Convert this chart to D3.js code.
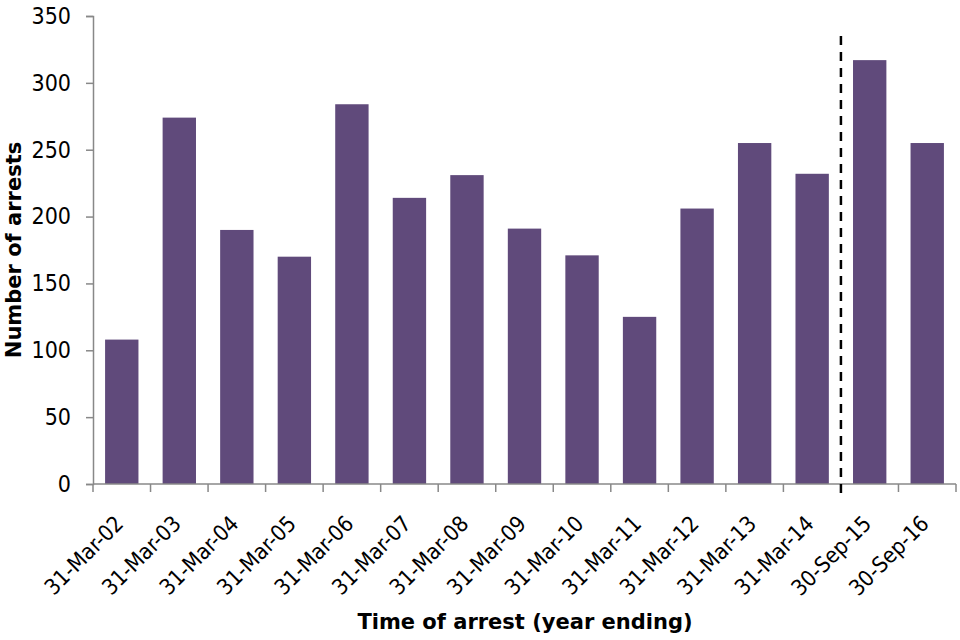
<!DOCTYPE html>
<html>
<head>
<meta charset="utf-8">
<script src="https://cdn.jsdelivr.net/npm/d3@7"></script>
<style>
  body { margin: 0; background: #fff; }
  svg { display: block; font-family: "DejaVu Sans", Verdana, sans-serif; }
</style>
</head>
<body>
<svg id="chart" width="960" height="640"></svg>
<script>
// year ending labels
const categories = ['31-Mar-02', '31-Mar-03', '31-Mar-04', '31-Mar-05', '31-Mar-06',
  '31-Mar-07', '31-Mar-08', '31-Mar-09', '31-Mar-10', '31-Mar-11', '31-Mar-12',
  '31-Mar-13', '31-Mar-14', '30-Sep-15', '30-Sep-16'];
const arrests = [108, 274, 190, 170, 284, 214, 231, 191, 171, 125, 206, 255, 232, 317, 255];
const yTicks = [0, 50, 100, 150, 200, 250, 300, 350];
// series break drawn before this category
const breakBefore = '30-Sep-15';

const tickFont = '"DejaVu Sans Condensed", "DejaVu Sans", sans-serif';

const svg = d3.select('#chart');
const margin = { top: 16, right: 4, bottom: 156, left: 93 };
const width = 960 - margin.left - margin.right;
const height = 640 - margin.top - margin.bottom;

const x = d3.scaleBand()
  .domain(categories)
  .range([0, width])
  .paddingInner(0.42)
  .paddingOuter(0.21);

const y = d3.scaleLinear()
  .domain([0, 350])
  .range([height, 0]);

const g = svg.append('g')
  .attr('transform', `translate(${margin.left},${margin.top})`);

g.selectAll('.bar')
  .data(arrests)
  .enter()
  .append('rect')
  .attr('class', 'bar')
  .attr('x', (d, i) => x(categories[i]))
  .attr('y', d => y(d))
  .attr('width', x.bandwidth())
  .attr('height', d => height - y(d))
  .attr('fill', '#604a7b');

// y axis
const yAxis = g.append('g')
  .call(d3.axisLeft(y).tickValues(yTicks).tickSize(7).tickPadding(15));
yAxis.select('.domain').attr('stroke', '#888').attr('stroke-width', 1.5);
yAxis.selectAll('.tick line').attr('stroke', '#888').attr('stroke-width', 1.5);
yAxis.selectAll('.tick text')
  .attr('font-family', tickFont)
  .attr('font-size', 23)
  .attr('fill', '#000');

// x axis: ticks sit on band boundaries
const edges = d3.range(categories.length + 1).map(i => i * width / categories.length);
const xAxis = g.append('g').attr('transform', `translate(0,${height})`);
xAxis.append('line')
  .attr('x1', 0).attr('x2', width)
  .attr('stroke', '#888').attr('stroke-width', 1.5);
xAxis.selectAll('.edge')
  .data(edges)
  .enter()
  .append('line')
  .attr('class', 'edge')
  .attr('x1', d => d).attr('x2', d => d)
  .attr('y1', 0).attr('y2', 8)
  .attr('stroke', '#888').attr('stroke-width', 1.5);

xAxis.selectAll('.xlabel')
  .data(categories)
  .enter()
  .append('text')
  .attr('class', 'xlabel')
  .attr('transform', d => `translate(${x(d) + x.bandwidth() / 2 + 3},${41}) rotate(-45)`)
  .attr('text-anchor', 'end')
  .attr('font-family', tickFont)
  .attr('font-size', 22)
  .attr('fill', '#000')
  .text(d => d);

// dashed break line
const bx = width * categories.indexOf(breakBefore) / categories.length;
g.append('line')
  .attr('x1', bx).attr('x2', bx)
  .attr('y1', y(335)).attr('y2', height + 10)
  .attr('stroke', '#000')
  .attr('stroke-width', 2.5)
  .attr('stroke-dasharray', '9,7');

// axis titles
svg.append('text')
  .attr('transform', `translate(21,${margin.top + height / 2}) rotate(-90)`)
  .attr('text-anchor', 'middle')
  .attr('font-size', 21)
  .attr('font-weight', 'bold')
  .attr('fill', '#000')
  .text('Number of arrests');

svg.append('text')
  .attr('x', 525)
  .attr('y', 629)
  .attr('text-anchor', 'middle')
  .attr('font-size', 21)
  .attr('font-weight', 'bold')
  .attr('fill', '#000')
  .text('Time of arrest (year ending)');
</script>
</body>
</html>
